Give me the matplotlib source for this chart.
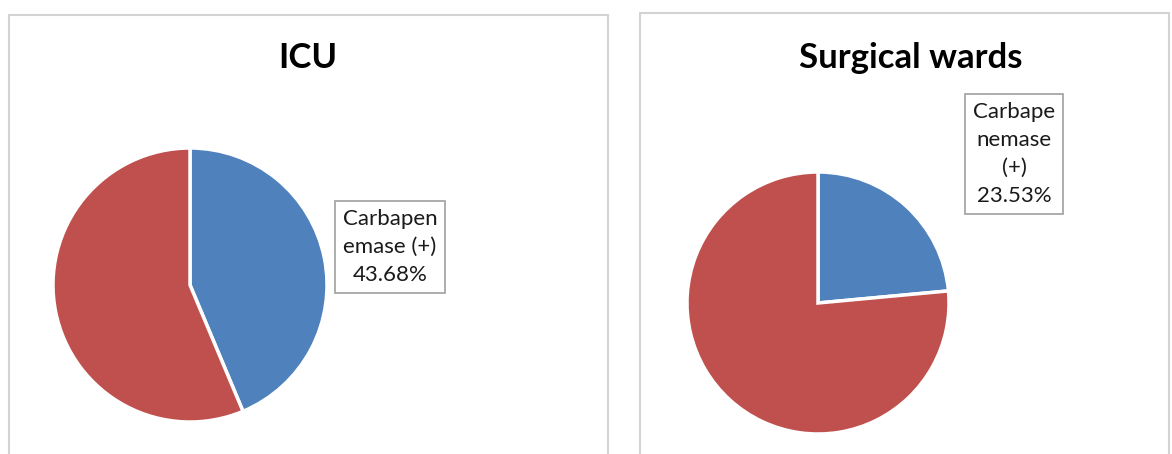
import matplotlib
matplotlib.use("Agg")
import matplotlib.pyplot as plt
from matplotlib.patches import Rectangle

# data
titles = ["ICU", "Surgical wards"]
positive_pct = [43.68, 23.53]
negative_pct = [100 - v for v in positive_pct]
label_texts = ["Carbapen\nemase (+)\n43.68%", "Carbape\nnemase\n(+)\n23.53%"]

BLUE = "#4F81BD"
RED = "#C0504D"
W, H = 1172, 454

# layout in pixel units (y from bottom)
panels = [(9, 608, 15), (640, 1169, 13)]
centers = [(190, H - 285), (818, H - 303)]
radii = [137, 131]
title_pos = [(308, H - 58), (911, H - 58)]
label_pos = [(390, H - 247), (1014, H - 154)]


def main():
    fig = plt.figure(figsize=(W / 100, H / 100), dpi=100)
    ax = fig.add_axes([0, 0, 1, 1])
    ax.set_xlim(0, W)
    ax.set_ylim(0, H)
    ax.set_aspect("equal")
    ax.axis("off")

    for i in range(2):
        x0, x1, top = panels[i]
        ax.add_patch(Rectangle((x0, -20), x1 - x0, H - top + 20, fill=False,
                               edgecolor="#D3D3D3", linewidth=1.5))
        wedges, _ = ax.pie([positive_pct[i], negative_pct[i]], colors=[BLUE, RED],
                           startangle=90, counterclock=False, center=centers[i],
                           radius=radii[i], explode=[0.015, 0],
                           wedgeprops=dict(edgecolor="white", linewidth=2.5))
        ax.set_xlim(0, W)
        ax.set_ylim(0, H)
        ax.text(title_pos[i][0], title_pos[i][1], titles[i], ha="center", va="center",
                fontsize=25, fontweight="bold", family="Lato")
        ax.text(label_pos[i][0], label_pos[i][1], label_texts[i], ha="center", va="center",
                fontsize=16, family="Lato", linespacing=1.5, color="#1a1a1a",
                bbox=dict(boxstyle="square,pad=0.35", facecolor="white",
                          edgecolor="#A0A0A0", linewidth=1.2))

    fig.savefig("out.png", dpi=100)


if __name__ == "__main__":
    main()
